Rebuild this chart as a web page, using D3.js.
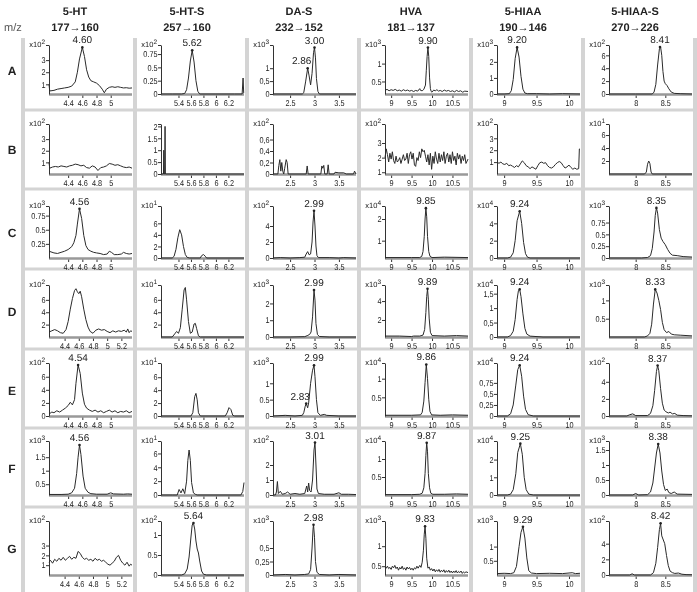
<!DOCTYPE html>
<html><head><meta charset="utf-8">
<script src="https://cdn.jsdelivr.net/npm/d3@7"></script>
<style>html,body{margin:0;padding:0;background:#fff}svg{display:block;will-change:transform}</style>
</head><body><svg id="c" width="697" height="592"></svg>
<script>
// ---------- data ----------
const compounds = ["5-HT","5-HT-S","DA-S","HVA","5-HIAA","5-HIAA-S"];
const transitions = ["177\u2192160","257\u2192160","232\u2192152","181\u2192137","190\u2192146","270\u2192226"];
const rowLetters = ["A","B","C","D","E","F","G"];
const xDomains = [[4.13,5.3],[5.12,6.45],[2.15,3.85],[8.85,10.88],[8.89,10.17],[7.55,8.95]];
const xTickValues = [[4.4,4.6,4.8,5],[5.4,5.6,5.8,6,6.2],[2.5,3,3.5],[9,9.5,10,10.5],[9,9.5,10],[8,8.5]];
const col1WideRows = ["D","G"];
const col1WideDomain = [4.18,5.35];
const col1WideTicks = [4.4,4.6,4.8,5,5.2];

// Row A
const A1 = [[4.13,1.0],[4.14,0.45],[4.2,0.5],[4.25,0.6],[4.3,0.65],[4.35,0.7],[4.4,0.75],[4.45,0.85],[4.5,1.2],[4.53,2.0],[4.56,3.1],[4.6,4.05],[4.63,3.3],[4.66,2.2],[4.69,1.6],[4.72,1.3],[4.76,1.2],[4.8,1.1],[4.84,0.9],[4.88,0.6],[4.91,0.3],[4.94,0.6],[4.98,0.75],[5.02,0.8],[5.06,0.75],[5.1,0.8],[5.14,0.75],[5.18,0.7],[5.22,0.72],[5.26,0.68],[5.3,0.7]];
const A2 = [[5.12,0],[5.3,0],[5.45,0],[5.5,0.01],[5.53,0.08],[5.56,0.3],[5.59,0.62],[5.62,0.82],[5.65,0.6],[5.68,0.25],[5.71,0.05],[5.74,0],[6.0,0],[6.3,0],[6.42,0],[6.435,0.3],[6.445,0.02],[6.45,0.02]];
const A3 = [[2.15,0],[2.5,0],[2.75,0],[2.78,0.05],[2.82,0.5],[2.86,1.0],[2.89,0.7],[2.92,0.35],[2.95,0.8],[2.98,1.6],[3.0,1.8],[3.02,1.4],[3.04,0.6],[3.07,0.1],[3.1,0],[3.5,0],[3.85,0]];
const A4 = [[8.85,0.25],[8.9,0.28],[8.95,0.24],[9.0,0.27],[9.05,0.25],[9.1,0.28],[9.15,0.24],[9.2,0.26],[9.25,0.23],[9.3,0.27],[9.35,0.24],[9.4,0.26],[9.45,0.23],[9.5,0.25],[9.55,0.22],[9.6,0.25],[9.65,0.23],[9.7,0.3],[9.72,0.25],[9.76,0.24],[9.8,0.28],[9.84,0.4],[9.86,0.8],[9.88,1.2],[9.9,1.45],[9.92,1.2],[9.94,0.6],[9.96,0.3],[9.98,0.22],[10.0,0.2],[10.04,0.26],[10.08,0.24],[10.12,0.27],[10.16,0.23],[10.2,0.25],[10.25,0.22],[10.3,0.26],[10.35,0.23],[10.4,0.25],[10.45,0.22],[10.5,0.24],[10.55,0.21],[10.6,0.25],[10.65,0.22],[10.7,0.24],[10.75,0.2],[10.8,0.23],[10.88,0.22]];
const A5 = [[8.89,0],[9.0,0],[9.08,0.02],[9.11,0.2],[9.14,0.9],[9.17,2.2],[9.2,2.9],[9.23,2.3],[9.26,1.1],[9.29,0.3],[9.32,0.06],[9.36,0.02],[9.5,0.02],[9.7,0],[9.9,0.02],[10.17,0]];
const A6 = [[7.55,0],[8.0,0],[8.28,0],[8.31,0.3],[8.34,1.5],[8.37,4.5],[8.4,7.0],[8.42,7.3],[8.44,6.0],[8.46,3.5],[8.48,2.0],[8.5,1.6],[8.53,1.3],[8.56,0.8],[8.6,0.3],[8.65,0.1],[8.75,0.05],[8.95,0]];
const yDomainsA = [[0.2,4.25],[0,0.92],[0,1.9],[0.15,1.52],[0,3.05],[0,7.6]];
const yTicksA = [["1","2","3"],["0","0.25","0.5","0.75"],["0","0,5","1"],["0.5","1"],["0","1","2"],["0","2","4","6"]];
const expsA = [2,2,3,3,3,2];
const peaksA = [[[4.60,"4.60"]],[[5.62,"5.62"]],[[2.86,"2.86",-6],[3.00,"3.00"]],[[9.90,"9.90"]],[[9.20,"9.20"]],[[8.41,"8.41"]]];

// Row B
const B1 = [[4.13,1.0],[4.14,0.5],[4.18,0.6],[4.22,0.65],[4.26,0.6],[4.3,0.7],[4.34,0.65],[4.38,0.6],[4.42,0.7],[4.46,0.75],[4.5,0.85],[4.54,0.8],[4.58,0.7],[4.62,0.75],[4.66,0.55],[4.7,0.5],[4.74,0.7],[4.78,0.6],[4.82,0.3],[4.86,0.55],[4.9,0.6],[4.94,0.7],[4.98,0.9],[5.02,0.85],[5.06,0.75],[5.1,0.8],[5.14,0.7],[5.18,0.6],[5.22,0.55],[5.26,0.6],[5.3,0.5]];
const B2 = [[5.12,0],[5.16,0],[5.165,1.0],[5.17,0],[5.18,0],[5.185,2.0],[5.19,0],[6.45,0]];
const B3 = [[2.15,0],[2.25,0],[2.27,0.15],[2.29,0.25],[2.31,0.05],[2.33,0.2],[2.35,0.05],[2.37,0],[2.39,0.1],[2.42,0.25],[2.44,0.2],[2.46,0],[2.6,0],[2.83,0],[2.85,0.14],[2.87,0],[3.13,0],[3.15,0.14],[3.17,0.1],[3.19,0.15],[3.21,0],[3.26,0],[3.28,0.16],[3.3,0],[3.4,0],[3.42,0.03],[3.5,0.02],[3.6,0.02],[3.65,0],[3.8,0],[3.82,0.05],[3.85,0]];
const B4 = [[8.85,2.0],[8.88,2.6],[8.91,2.2],[8.94,1.7],[8.97,2.3],[9.0,1.9],[9.03,2.4],[9.06,1.8],[9.09,1.6],[9.12,2.1],[9.15,1.7],[9.18,1.8],[9.21,2.0],[9.24,1.6],[9.27,1.9],[9.3,2.2],[9.33,1.8],[9.36,1.9],[9.39,2.3],[9.42,1.6],[9.45,2.2],[9.48,2.4],[9.51,1.9],[9.54,2.3],[9.57,1.5],[9.6,1.4],[9.63,2.0],[9.66,1.8],[9.69,2.4],[9.72,2.0],[9.75,2.6],[9.78,2.4],[9.81,2.5],[9.84,2.1],[9.87,1.7],[9.9,2.2],[9.93,1.5],[9.96,2.3],[9.99,1.2],[10.02,2.1],[10.05,1.6],[10.08,2.4],[10.11,1.9],[10.14,1.6],[10.17,2.3],[10.2,1.7],[10.23,2.2],[10.26,1.8],[10.29,2.4],[10.32,1.6],[10.35,2.1],[10.38,2.3],[10.41,1.7],[10.44,2.2],[10.47,1.6],[10.5,2.4],[10.53,1.8],[10.56,2.1],[10.59,1.5],[10.62,2.3],[10.65,1.9],[10.68,2.2],[10.71,1.6],[10.74,2.1],[10.77,1.8],[10.8,2.2],[10.83,1.6],[10.88,1.9]];
const B5 = [[8.89,1.0],[8.92,0.9],[8.95,1.0],[8.98,0.85],[9.01,0.8],[9.04,0.9],[9.07,0.7],[9.1,0.75],[9.13,0.65],[9.16,0.55],[9.19,0.7],[9.22,0.6],[9.25,0.85],[9.28,1.1],[9.31,0.95],[9.34,0.7],[9.37,0.6],[9.4,0.45],[9.43,0.6],[9.46,0.5],[9.49,0.4],[9.52,0.7],[9.55,0.95],[9.58,1.0],[9.61,0.9],[9.64,0.95],[9.67,0.7],[9.7,0.55],[9.73,0.5],[9.76,0.6],[9.79,0.8],[9.82,0.95],[9.85,1.05],[9.88,0.95],[9.91,0.7],[9.94,0.5],[9.97,0.6],[10.0,0.75],[10.03,0.55],[10.06,0.4],[10.09,0.5],[10.12,0.4],[10.15,0.45],[10.16,2.1],[10.17,2.1]];
const B6 = [[7.55,0],[8.15,0],[8.18,0.3],[8.2,1.5],[8.22,2.0],[8.24,1.6],[8.26,0.3],[8.28,0],[8.95,0]];
const yDomainsB = [[0,4.3],[0,2.1],[0,0.87],[0.88,4.3],[0,4.2],[0,7.7]];
const yTicksB = [["1","2","3"],["0","0.5","1","1.5","2"],["0","0,2","0,4","0,6"],["1","2","3"],["1","2","3"],["2","4","6"]];
const expsB = [2,null,2,2,2,1];
const peaksB = [[],[],[],[],[],[]];

// Row C
const C1 = [[4.13,0.12],[4.2,0.09],[4.25,0.08],[4.3,0.1],[4.35,0.12],[4.4,0.15],[4.45,0.2],[4.48,0.27],[4.51,0.4],[4.53,0.6],[4.56,0.87],[4.59,0.7],[4.62,0.4],[4.65,0.22],[4.68,0.15],[4.72,0.12],[4.76,0.1],[4.8,0.09],[4.85,0.08],[4.9,0.06],[4.95,0.07],[4.98,0.12],[5.01,0.1],[5.05,0.06],[5.1,0.06],[5.15,0.07],[5.18,0.1],[5.22,0.08],[5.26,0.07],[5.3,0.08]];
const C2 = [[5.12,0],[5.3,0],[5.33,0.3],[5.36,1.5],[5.39,3.5],[5.42,4.9],[5.45,4.0],[5.48,2.0],[5.51,0.6],[5.54,0.1],[5.58,0],[5.75,0],[5.77,0.4],[5.8,0.6],[5.83,0.3],[5.85,0],[6.45,0]];
const C3 = [[2.15,0],[2.3,0.05],[2.5,0],[2.7,0.05],[2.8,0.1],[2.83,0.5],[2.86,0.8],[2.89,0.4],[2.92,0.5],[2.95,2.0],[2.97,4.5],[2.99,5.9],[3.01,4.0],[3.03,1.5],[3.05,0.3],[3.08,0.05],[3.3,0.05],[3.5,0],[3.6,0.05],[3.85,0]];
const C4 = [[8.85,0.22],[9.5,0.22],[9.7,0.22],[9.75,0.28],[9.78,0.5],[9.81,1.2],[9.83,2.0],[9.85,2.5],[9.87,2.1],[9.89,1.2],[9.92,0.5],[9.95,0.28],[10.0,0.22],[10.3,0.24],[10.88,0.22]];
const C5 = [[8.89,0],[9.05,0],[9.1,0.1],[9.14,0.6],[9.17,2.0],[9.2,4.3],[9.24,5.4],[9.27,4.0],[9.3,1.8],[9.33,0.5],[9.36,0.1],[9.4,0],[10.17,0]];
const C6 = [[7.55,0],[8.1,0],[8.2,0.01],[8.25,0.05],[8.28,0.2],[8.31,0.55],[8.33,0.9],[8.35,1.06],[8.37,0.95],[8.4,0.6],[8.43,0.42],[8.46,0.35],[8.5,0.28],[8.54,0.18],[8.58,0.1],[8.62,0.06],[8.7,0.05],[8.8,0.03],[8.95,0.02]];
const yDomainsC = [[0,0.92],[0,9],[0,6.5],[0.2,2.6],[0,6.0],[0,1.1]];
const yTicksC = [["0.25","0.5","0.75"],["0","2","4","6"],["0","2","4"],["1","2"],["0","2","4"],["0","0.25","0.5","0.75"]];
const expsC = [3,1,2,4,4,3];
const peaksC = [[[4.56,"4.56"]],[],[[2.99,"2.99"]],[[9.85,"9.85"]],[[9.24,"9.24"]],[[8.35,"8.35"]]];

// Row D
const D1 = [[4.18,0.8],[4.22,1.0],[4.26,1.2],[4.3,1.0],[4.34,0.7],[4.38,0.6],[4.42,1.2],[4.45,2.5],[4.48,4.5],[4.51,6.2],[4.54,7.5],[4.56,7.8],[4.58,7.3],[4.6,7.0],[4.62,7.4],[4.64,6.5],[4.67,4.5],[4.7,2.8],[4.73,1.6],[4.76,0.9],[4.8,0.6],[4.84,1.1],[4.88,1.3],[4.92,1.1],[4.96,1.2],[5.0,0.9],[5.04,0.7],[5.08,1.0],[5.12,0.8],[5.16,1.0],[5.2,0.9],[5.24,1.1],[5.27,0.8],[5.29,1.3],[5.31,0.7],[5.33,1.0],[5.35,0.9]];
const D2 = [[5.12,0],[5.3,0],[5.34,0.5],[5.37,0.9],[5.4,0.6],[5.43,1.5],[5.46,4.5],[5.49,7.6],[5.51,8.0],[5.53,6.0],[5.56,2.5],[5.59,0.6],[5.62,0.8],[5.65,2.1],[5.67,2.2],[5.69,1.4],[5.72,0.2],[5.75,0],[6.45,0]];
const D3 = [[2.15,0],[2.5,0],[2.8,0.02],[2.85,0.08],[2.9,0.15],[2.93,0.3],[2.96,1.2],[2.99,2.8],[3.01,2.2],[3.03,0.8],[3.06,0.15],[3.1,0.03],[3.3,0],[3.85,0]];
const D4 = [[8.85,0.3],[9.2,0.3],[9.5,0.25],[9.55,0.3],[9.7,0.3],[9.78,0.4],[9.82,1.0],[9.85,2.8],[9.87,4.5],[9.89,5.3],[9.91,4.2],[9.93,2.2],[9.96,0.7],[10.0,0.35],[10.3,0.3],[10.6,0.35],[10.88,0.3]];
const D5 = [[8.89,0],[9.05,0],[9.1,0.05],[9.14,0.2],[9.17,0.6],[9.2,1.3],[9.22,1.6],[9.24,1.65],[9.26,1.4],[9.29,0.8],[9.32,0.3],[9.35,0.1],[9.4,0.03],[9.6,0],[10.17,0]];
const D6 = [[7.55,0],[8.15,0],[8.2,0.03],[8.24,0.1],[8.27,0.35],[8.3,0.9],[8.33,1.3],[8.36,1.2],[8.39,1.0],[8.42,0.75],[8.45,0.4],[8.48,0.2],[8.52,0.12],[8.56,0.15],[8.6,0.08],[8.65,0.06],[8.75,0.05],[8.95,0.03]];
const yDomainsD = [[0,8.4],[0,8.4],[0,3.1],[0.2,5.7],[0,1.8],[0,1.42]];
const yTicksD = [["2","4","6"],["2","4","6"],["0","1","2"],["2","4"],["0","0,5","1","1,5"],["0.5","1"]];
const expsD = [2,1,3,3,4,3];
const peaksD = [[],[],[[2.99,"2.99"]],[[9.89,"9.89"]],[[9.24,"9.24"]],[[8.33,"8.33"]]];

// Row E
const E1 = [[4.13,0.3],[4.17,0.6],[4.2,0.5],[4.24,0.8],[4.28,0.6],[4.32,0.9],[4.36,1.2],[4.4,1.6],[4.43,2.1],[4.46,1.7],[4.49,2.5],[4.51,5.0],[4.54,7.8],[4.57,6.5],[4.6,3.5],[4.63,1.8],[4.66,1.2],[4.7,0.9],[4.74,0.7],[4.78,0.9],[4.82,0.6],[4.86,0.8],[4.9,0.5],[4.94,0.7],[4.98,0.9],[5.02,0.6],[5.06,0.8],[5.1,0.5],[5.14,0.7],[5.18,0.6],[5.22,0.8],[5.26,0.5],[5.3,0.7]];
const E2 = [[5.12,0],[5.6,0],[5.63,0.5],[5.66,3.0],[5.68,3.5],[5.7,2.5],[5.72,0.5],[5.75,0],[6.15,0],[6.18,0.5],[6.21,1.3],[6.24,1.0],[6.27,0.1],[6.3,0],[6.45,0]];
const E3 = [[2.15,0],[2.4,0.02],[2.6,0],[2.75,0.02],[2.78,0.1],[2.81,0.3],[2.83,0.38],[2.86,0.25],[2.88,0.4],[2.92,1.0],[2.96,1.4],[2.99,1.55],[3.01,1.2],[3.04,0.5],[3.07,0.1],[3.12,0.02],[3.2,0.05],[3.25,0.02],[3.5,0],[3.85,0]];
const E4 = [[8.85,0.02],[9.5,0.02],[9.72,0.03],[9.76,0.1],[9.8,0.4],[9.83,0.9],[9.86,1.38],[9.89,1.0],[9.92,0.45],[9.95,0.12],[9.99,0.03],[10.2,0.02],[10.5,0.03],[10.88,0.02]];
const E5 = [[8.89,0],[9.05,0],[9.1,0.05],[9.14,0.25],[9.18,0.7],[9.21,1.05],[9.24,1.15],[9.27,0.9],[9.3,0.45],[9.33,0.15],[9.37,0.03],[9.45,0],[10.17,0]];
const E6 = [[7.55,0],[7.85,0],[7.9,0.15],[7.95,0.25],[8.0,0.05],[8.2,0.05],[8.25,0.3],[8.29,1.2],[8.32,3.0],[8.35,5.2],[8.37,5.9],[8.39,5.3],[8.42,3.2],[8.45,1.5],[8.48,0.7],[8.51,0.5],[8.55,0.35],[8.58,0.45],[8.62,0.25],[8.66,0.3],[8.7,0.1],[8.8,0.05],[8.95,0.02]];
const yDomainsE = [[0,8.1],[0,8.2],[0,1.62],[0,1.42],[0,1.2],[0,6.2]];
const yTicksE = [["0","2","4","6"],["0","2","4","6"],["0","0.5","1"],["0.5","1"],["0","0,25","0,5","0,75"],["0","2","4"]];
const expsE = [2,1,3,4,4,2];
const peaksE = [[[4.54,"4.54"]],[],[[2.83,"2.83",-6],[2.99,"2.99"]],[[9.86,"9.86"]],[[9.24,"9.24"]],[[8.37,"8.37"]]];

// Row F
const F1 = [[4.13,0.12],[4.3,0.12],[4.4,0.13],[4.45,0.18],[4.49,0.35],[4.52,0.9],[4.54,1.5],[4.56,1.95],[4.58,1.6],[4.61,0.8],[4.64,0.35],[4.68,0.2],[4.72,0.15],[4.8,0.13],[4.95,0.13],[5.0,0.18],[5.04,0.14],[5.18,0.13],[5.24,0.14],[5.3,0.13]];
const F2 = [[5.12,0],[5.3,0],[5.38,0],[5.41,0.8],[5.44,0.3],[5.47,0.9],[5.5,0.2],[5.53,2.0],[5.55,5.0],[5.57,6.5],[5.59,5.0],[5.61,1.8],[5.64,0.3],[5.67,0.1],[5.7,0],[6.4,0],[6.43,0.5],[6.45,1.8]];
const F3 = [[2.15,0],[2.2,0],[2.22,0.2],[2.24,0.9],[2.26,0.1],[2.3,0.25],[2.34,0.05],[2.4,0.1],[2.45,0.2],[2.5,0.05],[2.6,0.1],[2.7,0.05],[2.8,0.1],[2.84,0.6],[2.86,0.2],[2.88,0.8],[2.9,0.3],[2.93,0.2],[2.96,1.0],[2.99,3.0],[3.01,3.5],[3.03,2.0],[3.05,0.4],[3.08,0.1],[3.2,0.05],[3.4,0.05],[3.5,0.15],[3.55,0.05],[3.7,0.05],[3.85,0.03]];
const F4 = [[8.85,0.01],[9.5,0.01],[9.7,0.02],[9.76,0.05],[9.8,0.2],[9.83,0.6],[9.85,1.1],[9.87,1.45],[9.89,1.2],[9.91,0.6],[9.94,0.2],[9.97,0.05],[10.02,0.02],[10.3,0.02],[10.6,0.03],[10.88,0.02]];
const F5 = [[8.89,0],[9.05,0],[9.1,0.05],[9.14,0.3],[9.18,1.2],[9.21,2.4],[9.25,2.9],[9.28,2.3],[9.31,1.0],[9.34,0.3],[9.38,0.05],[9.45,0],[10.17,0]];
const F6 = [[7.55,0],[7.95,0],[8.0,0.05],[8.05,0],[8.2,0.01],[8.25,0.1],[8.29,0.4],[8.32,0.9],[8.35,1.4],[8.38,1.7],[8.41,1.4],[8.44,0.8],[8.47,0.35],[8.5,0.15],[8.53,0.2],[8.56,0.08],[8.6,0.05],[8.65,0.1],[8.7,0.03],[8.95,0.02]];
const yDomainsF = [[0.1,2.1],[0,7.8],[0,3.6],[0,1.5],[0,3.05],[0,1.8]];
const yTicksF = [["0.5","1","1.5"],["0","2","4","6"],["0","1","2"],["0.5","1"],["0","1","2"],["0","0.5","1","1.5"]];
const expsF = [3,1,2,4,4,3];
const peaksF = [[[4.56,"4.56"]],[],[[3.01,"3.01"]],[[9.87,"9.87"]],[[9.25,"9.25"]],[[8.38,"8.38"]]];

// Row G
const G1 = [[4.18,1.3],[4.2,1.5],[4.23,1.2],[4.26,1.6],[4.29,1.4],[4.32,1.7],[4.35,1.5],[4.38,1.8],[4.41,1.5],[4.44,1.7],[4.47,1.9],[4.5,1.6],[4.53,1.8],[4.56,1.7],[4.59,2.4],[4.62,2.2],[4.65,1.8],[4.68,1.6],[4.71,1.7],[4.74,1.5],[4.77,1.6],[4.8,1.4],[4.83,1.7],[4.86,1.5],[4.89,1.6],[4.92,1.4],[4.95,1.5],[4.98,1.3],[5.01,1.1],[5.04,1.0],[5.07,1.2],[5.1,1.4],[5.13,1.8],[5.16,2.0],[5.19,1.5],[5.22,1.2],[5.25,1.0],[5.28,1.3],[5.31,0.9],[5.33,1.1],[5.35,1.0]];
const G2 = [[5.12,0],[5.45,0],[5.5,0.03],[5.54,0.15],[5.57,0.45],[5.6,0.95],[5.62,1.25],[5.64,1.3],[5.66,1.15],[5.68,0.85],[5.7,0.65],[5.72,0.55],[5.74,0.35],[5.77,0.1],[5.8,0.02],[5.85,0],[6.45,0]];
const G3 = [[2.15,0],[2.4,0.01],[2.6,0],[2.8,0.01],[2.88,0.02],[2.92,0.1],[2.95,0.5],[2.97,0.85],[2.98,0.93],[3.0,0.7],[3.02,0.25],[3.05,0.05],[3.1,0.01],[3.3,0],[3.5,0.01],[3.85,0]];
const G4 = [[8.85,0.48],[8.88,0.45],[8.91,0.5],[8.94,0.44],[8.97,0.47],[9.0,0.42],[9.03,0.5],[9.06,0.46],[9.09,0.52],[9.12,0.44],[9.15,0.48],[9.18,0.4],[9.21,0.47],[9.24,0.43],[9.27,0.5],[9.3,0.42],[9.33,0.46],[9.36,0.4],[9.39,0.48],[9.42,0.43],[9.45,0.47],[9.48,0.41],[9.51,0.45],[9.54,0.4],[9.57,0.46],[9.6,0.43],[9.63,0.5],[9.66,0.45],[9.7,0.52],[9.73,0.47],[9.76,0.6],[9.79,0.9],[9.81,1.3],[9.83,1.5],[9.85,1.2],[9.87,0.7],[9.9,0.45],[9.93,0.48],[9.96,0.4],[9.99,0.44],[10.02,0.38],[10.05,0.43],[10.08,0.36],[10.11,0.41],[10.14,0.37],[10.17,0.42],[10.2,0.35],[10.23,0.4],[10.26,0.36],[10.29,0.41],[10.32,0.34],[10.35,0.39],[10.38,0.35],[10.41,0.4],[10.44,0.34],[10.47,0.38],[10.5,0.33],[10.53,0.38],[10.56,0.34],[10.59,0.39],[10.62,0.33],[10.65,0.37],[10.68,0.34],[10.71,0.38],[10.74,0.32],[10.77,0.36],[10.8,0.33],[10.83,0.36],[10.88,0.34]];
const G5 = [[8.89,0.05],[9.0,0.06],[9.1,0.05],[9.15,0.08],[9.19,0.3],[9.23,1.0],[9.26,1.5],[9.29,1.7],[9.32,1.3],[9.35,0.6],[9.38,0.15],[9.42,0.07],[9.5,0.05],[9.7,0.06],[9.9,0.05],[10.05,0.08],[10.1,0.05],[10.17,0.06]];
const G6 = [[7.55,0],[7.9,0],[7.94,0.15],[7.98,0],[8.25,0],[8.3,0.3],[8.34,1.5],[8.37,3.5],[8.4,5.8],[8.42,6.6],[8.44,5.0],[8.46,4.6],[8.49,4.0],[8.52,2.5],[8.55,1.2],[8.58,0.5],[8.62,0.3],[8.66,0.2],[8.72,0.25],[8.78,0.1],[8.85,0.05],[8.95,0.03]];
const yDomainsG = [[0,5.5],[0,1.35],[0,1.0],[0.28,1.63],[0,1.9],[0,6.9]];
const yTicksG = [["1","2","3"],["0","0.5","1"],["0","0,25","0,5"],["0.5","1"],["0.5","1"],["0","2","4"]];
const expsG = [2,2,3,3,3,2];
const peaksG = [[],[[5.64,"5.64"]],[[2.98,"2.98"]],[[9.83,"9.83"]],[[9.29,"9.29"]],[[8.42,"8.42"]]];

// ---------- layout ----------
const W = 697, H = 592;
const sepX = [23,135,247,359,471,583,695];
const rowTops = [45,124,206,285,363,441,521];
const rowAxes = [94,174,258,337,416,495,575];
const sepY = [110,189,269,349,428,507];
const FONT = "'Liberation Sans',Arial,sans-serif";

const rowsData = [
  {curves:[A1,A2,A3,A4,A5,A6], yd:yDomainsA, yt:yTicksA, ex:expsA, pk:peaksA},
  {curves:[B1,B2,B3,B4,B5,B6], yd:yDomainsB, yt:yTicksB, ex:expsB, pk:peaksB},
  {curves:[C1,C2,C3,C4,C5,C6], yd:yDomainsC, yt:yTicksC, ex:expsC, pk:peaksC},
  {curves:[D1,D2,D3,D4,D5,D6], yd:yDomainsD, yt:yTicksD, ex:expsD, pk:peaksD},
  {curves:[E1,E2,E3,E4,E5,E6], yd:yDomainsE, yt:yTicksE, ex:expsE, pk:peaksE},
  {curves:[F1,F2,F3,F4,F5,F6], yd:yDomainsF, yt:yTicksF, ex:expsF, pk:peaksF},
  {curves:[G1,G2,G3,G4,G5,G6], yd:yDomainsG, yt:yTicksG, ex:expsG, pk:peaksG}
];

const svg = d3.select("#c").attr("text-rendering","geometricPrecision");

// grid separators
const grid = svg.append("g");
sepX.forEach(x => grid.append("rect").attr("x",x-2).attr("y",38).attr("width",4).attr("height",H-38).attr("fill","#d4d4d4"));
sepY.forEach(y => grid.append("rect").attr("x",sepX[0]).attr("y",y-1.5).attr("width",W-sepX[0]).attr("height",3).attr("fill","#d4d4d4"));

// header
const hdr = svg.append("g").attr("font-family",FONT).attr("font-weight","bold").attr("font-size",11).attr("fill","#222").attr("text-anchor","middle");
compounds.forEach((c,i) => {
  const cx = (sepX[i]+sepX[i+1])/2 - 4;
  hdr.append("text").attr("x",cx).attr("y",15).text(c);
  hdr.append("text").attr("x",cx).attr("y",31).text(transitions[i]);
});
svg.append("text").attr("x",4).attr("y",31).attr("font-family",FONT).attr("font-size",11).attr("fill","#555").text("m/z");

// row letters
rowLetters.forEach((r,ri) => {
  svg.append("text").attr("x",12).attr("y",(rowTops[ri]+rowAxes[ri])/2+5).attr("text-anchor","middle")
    .attr("font-family",FONT).attr("font-weight","bold").attr("font-size",12).attr("fill","#222").text(r);
});

const parseTick = s => +s.replace(",",".");

rowsData.forEach((rd,ri) => {
  for (let ci=0; ci<6; ci++) {
    const wide = (ci===0 && col1WideRows.includes(rowLetters[ri]));
    const xd = wide ? col1WideDomain : xDomains[ci];
    const xt = wide ? col1WideTicks : xTickValues[ci];
    const x0 = sepX[ci]+26, x1 = sepX[ci+1]-3;
    const yTop = rowTops[ri], yAx = rowAxes[ri];
    const x = d3.scaleLinear().domain(xd).range([x0,x1]);
    const y = d3.scaleLinear().domain(rd.yd[ci]).range([yAx,yTop]);
    const g = svg.append("g").attr("font-family",FONT);

    // x axis
    const xa = g.append("g").attr("transform",`translate(0,${yAx+1})`)
      .call(d3.axisBottom(x).tickValues(xt).tickSize(3).tickSizeOuter(0).tickFormat(d=>String(d)));
    xa.select(".domain").remove();
    xa.selectAll(".tick line").attr("stroke","#333");
    xa.selectAll(".tick text").attr("font-size",8.5).attr("fill","#222").attr("dy","0.55em")
      .attr("font-family",FONT).attr("transform","scale(0.86,1)");
    g.append("line").attr("x1",x0).attr("x2",x1).attr("y1",yAx+0.5).attr("y2",yAx+0.5).attr("stroke","#999").attr("stroke-width",2.5);

    // y axis
    const labels = rd.yt[ci];
    const vals = labels.map(parseTick);
    const ya = g.append("g").attr("transform",`translate(${x0},0)`)
      .call(d3.axisLeft(y).tickValues(vals).tickSize(3).tickSizeOuter(0).tickFormat((d,i)=>labels[i]));
    ya.select(".domain").attr("stroke","#333");
    ya.selectAll(".tick line").attr("stroke","#333");
    ya.selectAll(".tick text").attr("font-size",8.5).attr("fill","#222").attr("x",-4).attr("font-family",FONT)
      .attr("transform","scale(0.86,1)");
    g.append("line").attr("x1",x0-3).attr("x2",x0).attr("y1",yTop+0.5).attr("y2",yTop+0.5).attr("stroke","#333");

    // exponent label
    if (rd.ex[ci] !== null) {
      const t = g.append("text").attr("x",x0-4).attr("y",yTop+2).attr("text-anchor","end").attr("font-size",7.5).attr("fill","#222");
      t.append("tspan").text("x10");
      t.append("tspan").attr("dy",-3).attr("font-size",6.5).text(rd.ex[ci]);
    }

    // curve
    const line = d3.line().x(d=>x(d[0])).y(d=>y(d[1]));
    g.append("path").datum(rd.curves[ci]).attr("d",line).attr("fill","none").attr("stroke","#2a2a2a").attr("stroke-width",1).attr("stroke-linejoin","round");

    // peak labels
    rd.pk[ci].forEach(p => {
      const near = rd.curves[ci].filter(d => Math.abs(d[0]-p[0]) <= 0.025);
      const py = d3.max(near, d=>d[1]);
      g.append("circle").attr("cx",x(p[0])).attr("cy",y(py)).attr("r",1.3).attr("fill","#222");
      g.append("text").attr("x",x(p[0])+(p[2]||0)).attr("y",y(py)-4).attr("text-anchor","middle")
        .attr("font-size",10).attr("fill","#222").attr("font-family",FONT).text(p[1]);
    });
  }
});
</script></body></html>
